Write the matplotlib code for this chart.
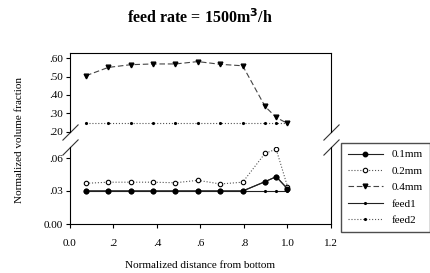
import matplotlib
matplotlib.use("Agg")
import matplotlib.pyplot as plt

plt.rcParams['font.family'] = ['Liberation Serif', 'DejaVu Serif']

# data
x = [0.074, 0.176, 0.279, 0.382, 0.485, 0.588, 0.691, 0.794, 0.897, 0.948, 1.0]
mm01 = [0.030, 0.030, 0.030, 0.030, 0.030, 0.030, 0.030, 0.030, 0.0385, 0.043, 0.032]
mm02 = [0.037, 0.038, 0.038, 0.038, 0.0375, 0.0397, 0.0364, 0.038, 0.0643, 0.068, 0.034]
mm04 = [0.506, 0.551, 0.566, 0.570, 0.570, 0.583, 0.568, 0.560, 0.337, 0.277, 0.244]
feed1 = [0.030] * 11
feed2 = [0.244] * 11

xticks = [0.0, 0.2, 0.4, 0.6, 0.8, 1.0, 1.2]
xlabels = ['0.0', '.2', '.4', '.6', '.8', '1.0', '1.2']
up_ticks = [0.2, 0.3, 0.4, 0.5, 0.6]
up_labels = ['.20', '.30', '.40', '.50', '.60']
lo_ticks = [0.0, 0.03, 0.06]
lo_labels = ['0.00', '.03', '.06']

fig = plt.figure(figsize=(4.31, 2.73), dpi=100)
L, R = 70 / 431, 331 / 431
ax1 = fig.add_axes([L, 1 - 131.5 / 273, R - L, (131.5 - 53) / 273])
ax2 = fig.add_axes([L, 1 - 224 / 273, R - L, (224 - 147) / 273])

fs = 8
lw = 0.8
styles = dict(
    mm01=dict(color='#222222', ls='-', marker='o', ms=3.2, mfc='black', mec='black', lw=lw),
    mm02=dict(color='#555555', ls=':', marker='o', ms=3.2, mfc='white', mec='black', mew=0.8, lw=lw),
    mm04=dict(color='#444444', ls=(0, (5, 2.5)), marker='v', ms=3.4, mfc='black', mec='black', lw=lw),
    feed1=dict(color='#222222', ls='-', marker='.', ms=2.5, mfc='black', mec='black', lw=lw),
    feed2=dict(color='#555555', ls=':', marker='.', ms=2.5, mfc='black', mec='black', lw=lw),
)

h1, = ax2.plot(x, mm01, label='0.1mm', **styles['mm01'])
h2, = ax2.plot(x, mm02, label='0.2mm', **styles['mm02'])
h4, = ax1.plot(x, mm04, label='0.4mm', **styles['mm04'])
hf1, = ax2.plot(x, feed1, label='feed1', **styles['feed1'])
hf2, = ax1.plot(x, feed2, label='feed2', **styles['feed2'])
ax2.plot(x, mm01, **styles['mm01'])

for ax in (ax1, ax2):
    ax.set_xlim(0, 1.2)
    ax.tick_params(direction='out', length=3, width=0.8, labelsize=fs, pad=2)
    for s in ax.spines.values():
        s.set_linewidth(0.8)

ax1.set_ylim(0.2, 0.63)
ax1.set_yticks(up_ticks)
ax1.set_yticklabels(up_labels)
ax1.spines['bottom'].set_visible(False)
ax1.tick_params(axis='x', bottom=False, labelbottom=False)

ax2.set_ylim(0, 0.07)
ax2.set_yticks(lo_ticks)
ax2.set_yticklabels(lo_labels)
ax2.spines['top'].set_visible(False)
ax2.set_xticks(xticks)
ax2.set_xticklabels(xlabels)
ax2.tick_params(axis='x', pad=8)

# break marks
bk = dict(marker=[(-1, -1), (1, 1)], markersize=11.5, linestyle='none',
          color='#333333', mec='#333333', mew=0.8, clip_on=False)
ax1.plot([0, 1], [0, 0], transform=ax1.transAxes, **bk)
ax2.plot([0, 1], [1, 1], transform=ax2.transAxes, **bk)

fig.text(0.465, 1 - 18 / 273, 'feed rate = 1500m$^{\\mathbf{3}}$/h', ha='center', va='center',
         fontsize=11.5, fontweight='bold')
fig.text(200 / 431, 1 - 266 / 273, 'Normalized distance from bottom', ha='center', va='center',
         fontsize=fs)
fig.text(20 / 431, 1 - 140 / 273, 'Normalized volume fraction', ha='center', va='center',
         rotation=90, fontsize=fs)

leg = fig.legend([h1, h2, h4, hf1, hf2], ['0.1mm', '0.2mm', '0.4mm', 'feed1', 'feed2'],
                 loc='upper left', bbox_to_anchor=(341 / 431, 1 - 143 / 273),
                 fontsize=fs, frameon=True, fancybox=False, shadow=False,
                 handlelength=3.2, borderpad=0.6, labelspacing=0.6, handletextpad=0.8,
                 borderaxespad=0)
leg.get_frame().set_edgecolor('#222222')
leg.get_frame().set_linewidth(1.0)

fig.savefig('out.png', dpi=100)
